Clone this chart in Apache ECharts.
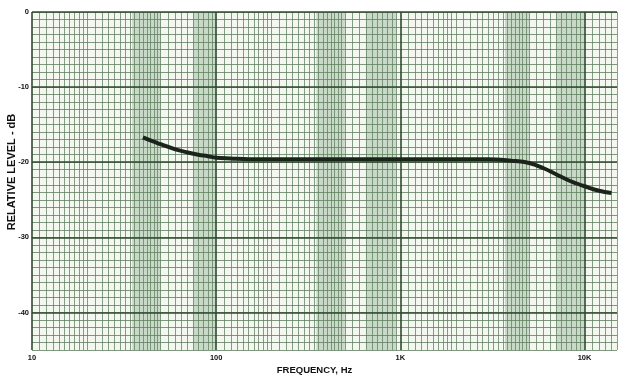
<!DOCTYPE html>
<html>
<head>
<meta charset="UTF-8">
<title>Relative level vs frequency</title>
<script src="https://cdn.jsdelivr.net/npm/echarts@6/dist/echarts.min.js"></script>
<style>
  html, body { margin: 0; padding: 0; background: #fff; }
  #chart { width: 619px; height: 375px; }
</style>
</head>
<body>
<div id="chart"></div>
<script>
// response curve (Hz, dB)
var freqs  = [40, 45, 50, 60, 70, 80, 90, 100, 120, 150, 200, 300, 500, 1000, 2000, 3000, 4000, 5000, 6000, 7000, 8000, 9000, 10000, 12000, 14000];
var levels = [-16.7, -17.2, -17.6, -18.3, -18.7, -19.0, -19.2, -19.4, -19.5, -19.6, -19.6, -19.6, -19.6, -19.6, -19.6, -19.6, -19.8, -20.1, -20.8, -21.6, -22.3, -22.8, -23.2, -23.8, -24.1];

var xTickLabels = { 10: '10', 100: '100', 1000: '1K', 10000: '10K' };
var yTicks = [0, -10, -20, -30, -40];
var decades = [10, 100, 1000, 10000];
var multipliers = [1, 1.1, 1.2, 1.3, 1.4, 1.5, 1.6, 1.7, 1.8, 1.9, 2, 2.2, 2.4, 2.6, 2.8, 3, 3.2, 3.4, 3.6, 3.8, 4, 4.2, 4.4, 4.6, 4.8, 5, 5.5, 6, 6.5, 7, 7.5, 8, 8.5, 9, 9.5];
// darker printed bands on the chart paper (Hz)
var bands = [[35, 50], [75, 100], [350, 500], [650, 950], [3700, 5000], [7000, 10000]];

var xMin = 10, xMax = 15000;

var vLines = [];
decades.forEach(function (d) {
  multipliers.forEach(function (m) {
    var v = d * m;
    if (v > xMin && v <= xMax && m !== 1) vLines.push({ xAxis: v });
  });
});
var majorLines = decades.map(function (d) { return { xAxis: d }; })
  .concat(yTicks.map(function (t) { return { yAxis: t }; }));

var chart = echarts.init(document.getElementById('chart'));
chart.setOption({
  backgroundColor: '#ffffff',
  animation: false,
  grid: {
    left: 32, right: 2, top: 12, bottom: 25,
    containLabel: false, outerBoundsMode: 'none',
    backgroundColor: '#f3f7f0', show: true, borderWidth: 0
  },
  xAxis: {
    type: 'log', logBase: 10, min: xMin, max: xMax,
    name: 'FREQUENCY, Hz', nameLocation: 'middle', nameGap: 15, nameMoveOverlap: false,
    nameTextStyle: { fontFamily: 'Liberation Sans', fontWeight: 'bold', fontSize: 9.5, color: '#111', padding: [0, 20, 0, 0] },
    axisLine: { show: false }, axisTick: { show: false },
    splitLine: { show: false },
    axisLabel: {
      margin: 4, fontFamily: 'Liberation Sans', fontWeight: 'bold', fontSize: 7.5, color: '#111',
      showMaxLabel: false,
      formatter: function (v) { return xTickLabels[Math.round(v)] || ''; }
    }
  },
  yAxis: {
    type: 'value', min: -45, max: 0, interval: 1,
    name: 'RELATIVE LEVEL - dB', nameLocation: 'middle', nameGap: 15, nameRotate: 90, nameMoveOverlap: false,
    nameTextStyle: { fontFamily: 'Liberation Sans', fontWeight: 'bold', fontSize: 11, color: '#111', padding: [0, 0, 0, 18] },
    axisLine: { show: false }, axisTick: { show: false },
    splitLine: { show: true, lineStyle: { color: '#5f7d5f', width: 1, opacity: 0.8 } },
    axisLabel: {
      margin: 3, fontFamily: 'Liberation Sans', fontWeight: 'bold', fontSize: 7.5, color: '#111',
      formatter: function (v) { return v % 10 === 0 ? String(v) : ''; }
    }
  },
  series: [
    {
      type: 'line', data: [], silent: true, z: 1,
      markArea: {
        silent: true,
        itemStyle: { color: 'rgba(95,140,95,0.28)' },
        data: bands.map(function (b) { return [{ xAxis: b[0] }, { xAxis: b[1] }]; })
      }
    },
    {
      type: 'line', data: [], silent: true, z: 2,
      markLine: {
        silent: true, symbol: 'none', label: { show: false }, animation: false,
        lineStyle: { color: '#5f7d5f', width: 1, type: 'solid', opacity: 0.75 },
        data: vLines
      }
    },
    {
      type: 'line', data: [], silent: true, z: 3,
      markLine: {
        silent: true, symbol: 'none', label: { show: false }, animation: false,
        lineStyle: { color: '#2f4a2f', width: 1.6, type: 'solid' },
        data: majorLines
      }
    },
    {
      type: 'line', smooth: 0.4, symbol: 'none', z: 20, zlevel: 1,
      lineStyle: { color: '#1b241b', width: 4 },
      data: freqs.map(function (f, i) { return [f, levels[i]]; })
    }
  ]
});
</script>
</body>
</html>
